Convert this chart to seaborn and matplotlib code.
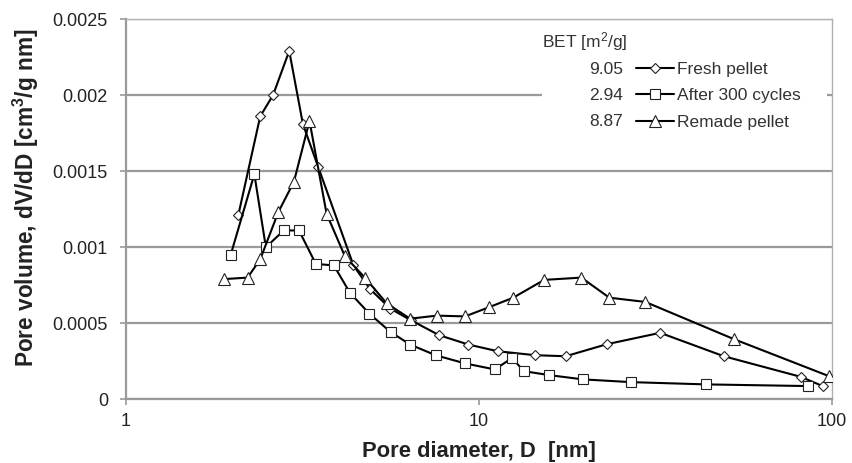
import matplotlib
matplotlib.use("Agg")
import matplotlib.pyplot as plt
import seaborn as sns
import pandas as pd
from matplotlib.patches import Rectangle
from matplotlib.lines import Line2D

# ---- data ----
fresh_d = [2.08, 2.40, 2.61, 2.90, 3.17, 3.50, 4.41, 4.91, 5.61, 6.42, 7.72, 9.33,
           11.3, 14.4, 17.6, 23.0, 32.6, 49.4, 81.5, 94.1]
fresh_v = [0.00121, 0.00186, 0.00200, 0.00229, 0.00181, 0.00153, 0.00088, 0.000725,
           0.000596, 0.000519, 0.000421, 0.00036, 0.000316, 0.00029, 0.000283,
           0.000362, 0.000437, 0.000283, 0.000148, 0.000087]

after_d = [1.98, 2.31, 2.49, 2.80, 3.09, 3.45, 3.88, 4.31, 4.89, 5.62, 6.38, 7.53,
           9.13, 11.1, 12.4, 13.4, 15.8, 19.7, 26.9, 43.9, 85.3]
after_v = [0.00095, 0.00148, 0.00100, 0.00111, 0.00111, 0.00089, 0.00088, 0.00070,
           0.000563, 0.000442, 0.00036, 0.00029, 0.000236, 0.000196, 0.000272,
           0.000185, 0.000159, 0.000131, 0.000113, 0.000098, 0.000087]

remade_d = [1.89, 2.21, 2.40, 2.70, 2.99, 3.31, 3.70, 4.17, 4.75, 5.48, 6.38, 7.59,
            9.13, 10.7, 12.5, 15.3, 19.5, 23.4, 29.6, 52.8, 98.1]
remade_v = [0.00079, 0.00080, 0.00092, 0.00123, 0.00143, 0.00183, 0.00122, 0.00094,
            0.00080, 0.00063, 0.00053, 0.00055, 0.000545, 0.000606, 0.000668,
            0.000785, 0.00080, 0.000668, 0.00064, 0.000395, 0.000152]

series_names = ["Fresh pellet", "After 300 cycles", "Remade pellet"]
bet_values = ["9.05", "2.94", "8.87"]
series_markers = ["D", "s", "^"]
marker_sizes = [5.4, 7.4, 8.0]

x_ticks = [1, 10, 100]
x_tick_labels = ["1", "10", "100"]
y_ticks = [0, 0.0005, 0.001, 0.0015, 0.002, 0.0025]
y_tick_labels = ["0", "0.0005", "0.001", "0.0015", "0.002", "0.0025"]

# ---- style ----
sns.set_theme(style="white")
plt.rcParams["font.family"] = ["Liberation Sans", "DejaVu Sans"]
plt.rcParams["mathtext.fontset"] = "custom"
plt.rcParams["mathtext.rm"] = "Liberation Sans"
plt.rcParams["mathtext.it"] = "Liberation Sans:italic"
plt.rcParams["mathtext.bf"] = "Liberation Sans:bold"

fig = plt.figure(figsize=(8.52, 4.63), dpi=100)
ax = fig.add_axes([126 / 852, 1 - 399.3 / 463, 706 / 852, 380.3 / 463])

grid_col = "#9a9a9a"
frame_col = "#b0b0b0"

frames = [pd.DataFrame({"D": fresh_d, "V": fresh_v}),
          pd.DataFrame({"D": after_d, "V": after_v}),
          pd.DataFrame({"D": remade_d, "V": remade_v})]

handles = []
for df, name, mk, ms in zip(frames, series_names, series_markers, marker_sizes):
    sns.lineplot(data=df, x="D", y="V", ax=ax, color="black", linewidth=1.5,
                 marker=mk, markersize=ms, markerfacecolor="white",
                 markeredgecolor="#222222", markeredgewidth=0.8,
                 sort=False, estimator=None, zorder=3)
    handles.append(Line2D([], [], color="black", linewidth=1.5, marker=mk,
                          markersize=ms, markerfacecolor="white",
                          markeredgecolor="#222222", markeredgewidth=0.8))

ax.set_xscale("log")
ax.set_xlim(1, 100)
ax.set_ylim(0, 0.0025)
ax.set_xticks(x_ticks)
ax.set_xticklabels(x_tick_labels)
ax.xaxis.set_minor_locator(matplotlib.ticker.NullLocator())
ax.set_yticks(y_ticks)
ax.set_yticklabels(y_tick_labels)

ax.yaxis.grid(True, color=grid_col, linewidth=1.6)
ax.xaxis.grid(False)
ax.set_axisbelow(True)

for side in ["left", "bottom"]:
    ax.spines[side].set_color(grid_col)
    ax.spines[side].set_linewidth(1.6)
for side in ["top", "right"]:
    ax.spines[side].set_color(frame_col)
    ax.spines[side].set_linewidth(1.0)

ax.tick_params(axis="both", which="major", direction="out", length=4, width=1.2,
               color=grid_col, labelsize=13, labelcolor="#222222", pad=6,
               left=True, bottom=True)
ax.tick_params(axis="y", pad=9)

ax.set_xlabel("Pore diameter, D  [nm]", fontsize=15.8, fontweight="bold",
              color="#222222", labelpad=7.5)
ax.set_ylabel(r"Pore volume, dV/dD [cm$^{\mathbf{3}}$/g nm]", fontsize=16.3,
              fontweight="bold", color="#222222", labelpad=8)
ax.yaxis.label.set_y(0.53)

# white legend area covering the gridline
ax.add_patch(Rectangle((0.589, 0.69), 0.4035, 0.305, transform=ax.transAxes,
                       facecolor="white", edgecolor="none", zorder=1.5))

ax.text(0.589, 0.940, r"BET [m$^{2}$/g]", transform=ax.transAxes, fontsize=12.5,
        color="#333333", ha="left", va="center", zorder=4)
row_y = [0.8685, 0.7988, 0.7292]
for val, yy in zip(bet_values, row_y):
    ax.text(0.7035, yy, val, transform=ax.transAxes, fontsize=12.5,
            color="#333333", ha="right", va="center", zorder=4)

leg = ax.legend(handles, series_names, loc="upper left",
                bbox_to_anchor=(0.722, 0.888), frameon=False, fontsize=12.5,
                handlelength=2.2, handletextpad=0.15, labelspacing=0.66,
                borderpad=0, borderaxespad=0)
for t in leg.get_texts():
    t.set_color("#333333")

fig.savefig("out.png", dpi=100, facecolor="white")
